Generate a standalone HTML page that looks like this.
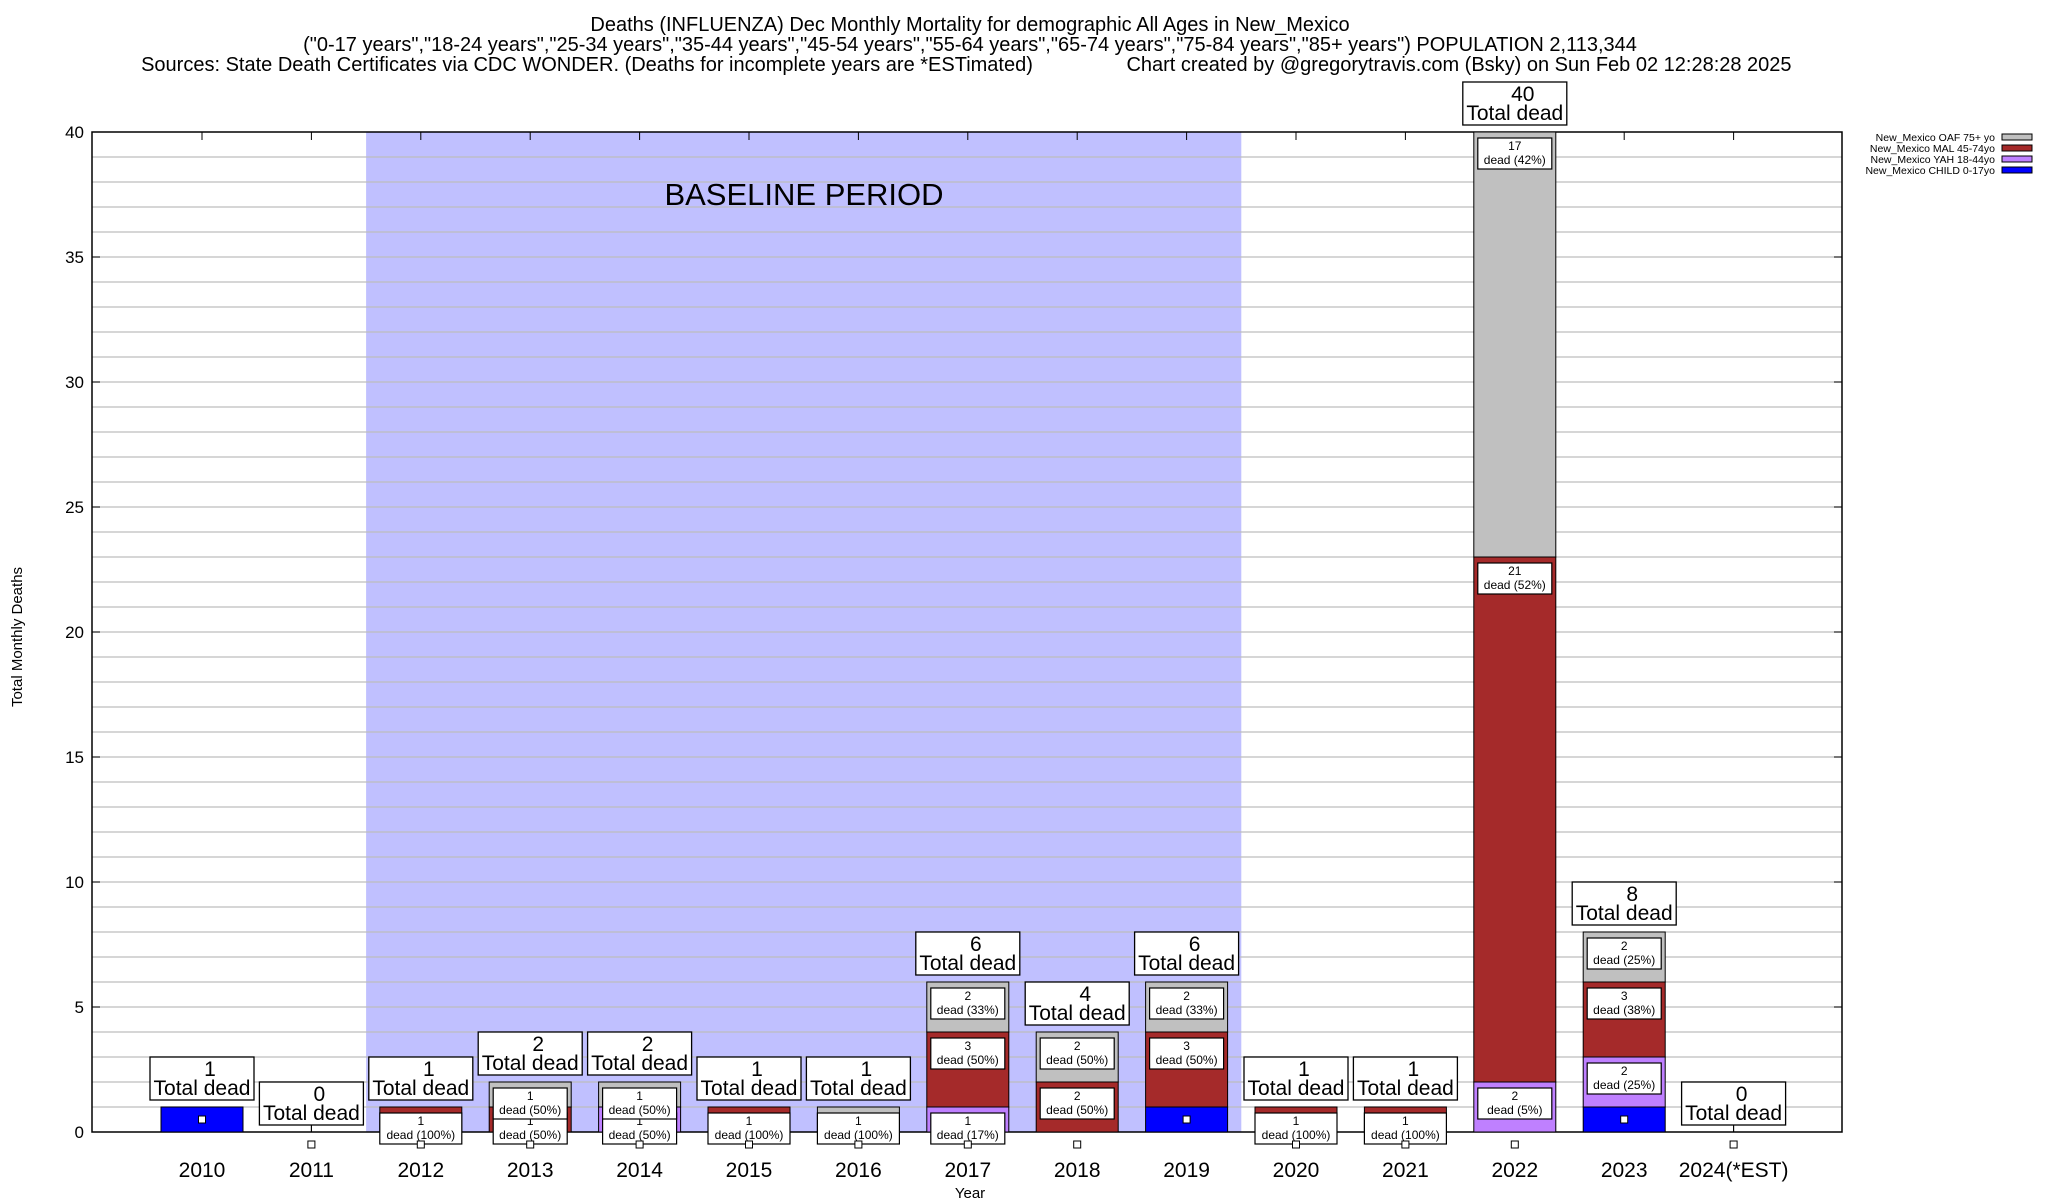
<!DOCTYPE html>
<html><head><meta charset="utf-8"><style>
html,body{margin:0;padding:0;background:#fff;}
svg{display:block;font-family:"Liberation Sans",sans-serif;}
</style></head><body>
<svg id="chart" width="2048" height="1200" viewBox="0 0 2048 1200" xmlns="http://www.w3.org/2000/svg">
<rect width="2048" height="1200" fill="#fff"/>
<g id="titles" font-size="20" text-anchor="middle" fill="#000">
<text x="970" y="31">Deaths (INFLUENZA) Dec Monthly Mortality for demographic All Ages in New_Mexico</text>
<text x="970" y="51">("0-17 years","18-24 years","25-34 years","35-44 years","45-54 years","55-64 years","65-74 years","75-84 years","85+ years") POPULATION 2,113,344</text>
<text x="587" y="71">Sources: State Death Certificates via CDC WONDER. (Deaths for incomplete years are *ESTimated)</text>
<text x="1459" y="71">Chart created by @gregorytravis.com (Bsky) on Sun Feb 02 12:28:28 2025</text>
</g>
<g id="plot"></g>
</svg>
<script>
const years = ["2010","2011","2012","2013","2014","2015","2016","2017","2018","2019","2020","2021","2022","2023","2024(*EST)"];
const child = [1,0,0,0,0,0,0,0,0,1,0,0,0,1,0];
const yah   = [0,0,0,0,1,0,0,1,0,0,0,0,2,2,0];
const mal   = [0,0,1,1,0,1,0,3,2,3,1,1,21,3,0];
const oaf   = [0,0,0,1,1,0,1,2,2,2,0,0,17,2,0];
const yTicks = [0,5,10,15,20,25,30,35,40];
const seriesNames = ["New_Mexico OAF 75+ yo","New_Mexico MAL 45-74yo","New_Mexico YAH 18-44yo","New_Mexico CHILD 0-17yo"];

const NS="http://www.w3.org/2000/svg";
const L=92,R=1842,T=132,B=1132,YMAX=40;
const x0=202, step=109.4, bw=82;
const xs=i=>x0+i*step;
const ys=v=>B-(v/YMAX)*(B-T);
const plot=document.getElementById('plot');
function mk(tag,attrs,parent,text){const e=document.createElementNS(NS,tag);for(const k in attrs)e.setAttribute(k,attrs[k]);if(text!==undefined)e.textContent=text;(parent||plot).appendChild(e);return e;}
function bround(x){const f=Math.floor(x);const d=x-f;if(Math.abs(d-0.5)<1e-9)return f%2===0?f:f+1;return Math.round(x);}

const band=mk('rect',{x:(xs(1)+xs(2))/2,y:T,width:(xs(9)+xs(10))/2-(xs(1)+xs(2))/2,height:B-T,fill:'#c0c0ff'});


for(let v=1;v<YMAX;v++){const g=mk('line',{x1:L,x2:R,y1:ys(v),y2:ys(v),stroke:'#bdbdbd','stroke-width':1.2});

}
const bt=mk('text',{x:804,y:205,'font-size':31,'text-anchor':'middle'},plot,'BASELINE PERIOD');


const fr=mk('rect',{x:L,y:T,width:R-L,height:B-T,fill:'none',stroke:'#000','stroke-width':1.5});


yTicks.forEach(v=>{mk('line',{x1:L,x2:L+8,y1:ys(v),y2:ys(v),stroke:'#000'});mk('line',{x1:R,x2:R-8,y1:ys(v),y2:ys(v),stroke:'#000'});
const t=mk('text',{x:84,y:ys(v)+6,'font-size':17,'text-anchor':'end'},plot,String(v));

});
const yt=mk('text',{x:22,y:637,'font-size':15,'text-anchor':'middle',transform:'rotate(-90 22 637)'},plot,'Total Monthly Deaths');


const xt=mk('text',{x:970,y:1198,'font-size':15,'text-anchor':'middle'},plot,'Year');



const colors={child:'#0000ff',yah:'#bf80ff',mal:'#a52a2a',oaf:'#c0c0c0'};
years.forEach((yr,i)=>{
  const cx=xs(i);
  mk('line',{x1:cx,x2:cx,y1:T,y2:T+8,stroke:'#000'});
  mk('line',{x1:cx,x2:cx,y1:B,y2:B-8,stroke:'#000'});
  const lab=mk('text',{x:cx,y:1177,'font-size':21,'text-anchor':'middle'},plot,yr);
  
  
  const segs=[['child',child[i]],['yah',yah[i]],['mal',mal[i]],['oaf',oaf[i]]];
  const total=segs.reduce((a,s)=>a+s[1],0);
  let base=0;
  segs.forEach(([k,v])=>{
    if(v<=0)return;
    const r=mk('rect',{x:cx-bw/2,y:ys(base+v),width:bw,height:ys(base)-ys(base+v),fill:colors[k],stroke:'#000','stroke-width':1});
    
    
    base+=v;
  });
  base=0;
  segs.forEach(([k,v])=>{
    if(v<=0){return;}
    if(k!=='child'){
      const pct=bround(100*v/total);
      const w=pct===100?82:74;
      const by=ys(base+v)+6;
      const g=mk('g',{});
      
      
      mk('rect',{x:cx-w/2,y:by,width:w,height:31,fill:'#fff',stroke:'#000','stroke-width':1.2},g);
      mk('text',{x:cx,y:by+12,'font-size':12,'text-anchor':'middle'},g,String(v));
      mk('text',{x:cx,y:by+26,'font-size':12,'text-anchor':'middle'},g,'dead ('+pct+'%)');
    }
    base+=v;
  });
  const my=ys(child[i]-0.5);
  const m=mk('rect',{x:cx-3.5,y:my-3.5,width:7,height:7,fill:'#fff',stroke:'#000','stroke-width':1});
  
  
  const bb=ys(total)-7;
  if(total===0) mk('line',{x1:cx,x2:cx,y1:bb,y2:B,stroke:'#000'});
  const tg=mk('g',{});
  
  
  mk('rect',{x:cx-52,y:bb-43,width:104,height:43,fill:'#fff',stroke:'#000','stroke-width':1.3},tg);
  mk('text',{x:cx+8,y:bb-24,'font-size':21,'text-anchor':'middle'},tg,String(total));
  mk('text',{x:cx,y:bb-5,'font-size':21,'text-anchor':'middle'},tg,'Total dead');
});
const legCols=[colors.oaf,colors.mal,colors.yah,colors.child];
seriesNames.forEach((n,j)=>{
  const y=137+j*11;
  const g=mk('g',{});
  
  
  mk('text',{x:1995,y:y+4,'font-size':10.5,'text-anchor':'end'},g,n);
  mk('rect',{x:2002,y:y-3,width:30,height:6,fill:legCols[j],stroke:'#000','stroke-width':1},g);
});
</script>
</body></html>
